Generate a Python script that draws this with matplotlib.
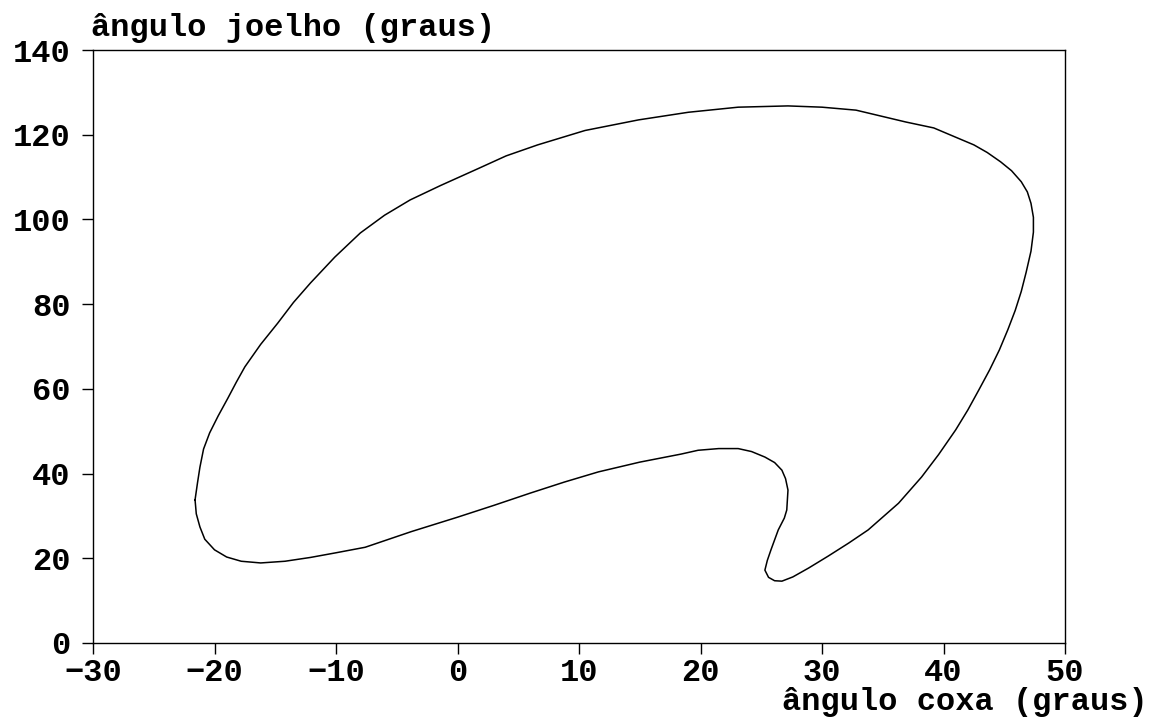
import matplotlib

matplotlib.use("Agg")
import matplotlib.pyplot as plt

# hip (thigh) angle vs knee angle over one gait cycle, degrees
thigh_deg = [
    -21.6, -21.4, -21.2, -20.9, -20.4, -19.7, -18.9, -18.2, -17.5, -16.2,
    -14.8, -13.5, -12.1, -10.1, -8.0, -6.0, -3.9, -1.4, 1.7, 4.0,
    6.6, 10.5, 14.9, 19.0, 23.1, 27.2, 30.0, 32.8, 36.9, 39.2,
    40.6, 42.5, 43.6, 44.7, 45.6, 46.4, 46.9, 47.2, 47.4, 47.4,
    47.2, 46.8, 46.4, 45.9, 45.3, 44.6, 43.8, 42.9, 42.0, 41.0,
    39.6, 38.2, 36.3, 33.8, 32.2, 30.5, 28.9, 27.6, 26.7, 26.1,
    25.6, 25.3, 25.5, 25.8, 26.4, 26.9, 27.1, 27.2, 27.0, 26.7,
    26.1, 25.3, 24.2, 23.1, 21.5, 19.8, 18.4, 15.0, 11.6, 8.8,
    6.0, 3.0, 0.0, -3.8, -7.6, -10.0, -12.1, -14.2, -16.2, -17.8,
    -19.0, -20.0, -20.8, -21.2, -21.5, -21.6,
]
knee_deg = [
    33.8, 37.8, 41.5, 45.8, 49.6, 53.6, 57.8, 61.6, 65.2, 70.5,
    75.5, 80.4, 85.0, 91.1, 96.8, 101.0, 104.6, 108.0, 112.0, 115.0,
    117.6, 121.0, 123.5, 125.3, 126.5, 126.8, 126.5, 125.8, 123.0, 121.6,
    119.9, 117.6, 115.8, 113.6, 111.5, 108.9, 106.5, 103.8, 100.5, 97.0,
    92.5, 87.5, 83.0, 78.5, 74.0, 69.2, 64.5, 59.7, 55.0, 50.3,
    44.5, 39.2, 33.0, 26.7, 23.6, 20.5, 17.7, 15.6, 14.6, 14.7,
    15.5, 17.2, 19.5, 22.0, 26.7, 29.5, 31.4, 36.1, 38.8, 40.8,
    42.6, 43.9, 45.2, 45.9, 45.9, 45.5, 44.6, 42.7, 40.4, 38.0,
    35.4, 32.5, 29.7, 26.3, 22.6, 21.3, 20.2, 19.3, 18.9, 19.3,
    20.3, 22.0, 24.5, 27.4, 30.5, 33.8,
]

x_ticks = [-30, -20, -10, 0, 10, 20, 30, 40, 50]
y_ticks = [0, 20, 40, 60, 80, 100, 120, 140]

plt.rcParams["font.family"] = ["Liberation Mono", "DejaVu Sans Mono"]
plt.rcParams["font.weight"] = "bold"
plt.rcParams["font.size"] = 23

W, H = 1160, 722
fig = plt.figure(figsize=(W / 100, H / 100), dpi=100)
ax = fig.add_axes([93 / W, (H - 643) / H, (1065 - 93) / W, (643 - 50) / H])

ax.plot(thigh_deg, knee_deg, color="black", linewidth=1.1,
        solid_joinstyle="round")

ax.set_xlim(-30, 50)
ax.set_ylim(0, 140)
ax.set_xticks(x_ticks)
ax.set_yticks(y_ticks)
ax.tick_params(direction="out", length=8, width=1, top=False, right=False,
               labelsize=23)
ax.tick_params(axis="x", pad=3)
ax.tick_params(axis="y", pad=8)
for spine in ax.spines.values():
    spine.set_linewidth(1.0)

fig.text(91 / W, 1 - 36 / H, "ângulo joelho (graus)", fontsize=23,
         fontweight="bold", ha="left", va="baseline")
fig.text(1148 / W, 1 - 710 / H, "ângulo coxa (graus)", fontsize=23,
         fontweight="bold", ha="right", va="baseline")

fig.savefig("out.png", dpi=100, facecolor="white")
